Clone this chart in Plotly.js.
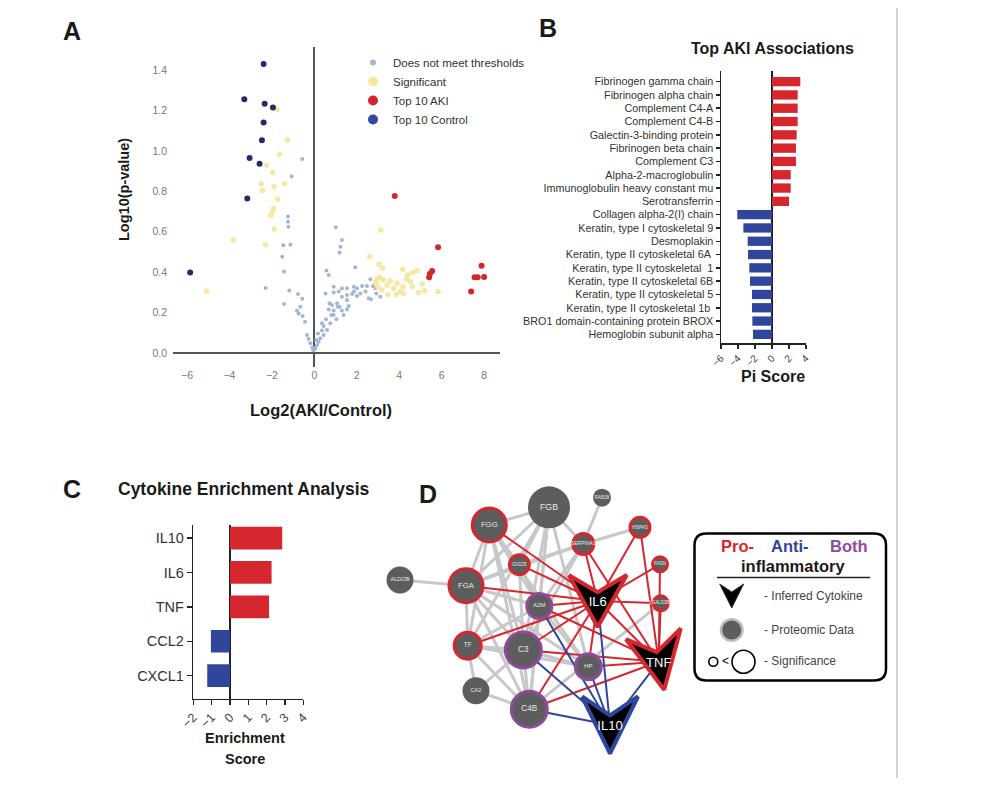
<!DOCTYPE html>
<html><head><meta charset="utf-8">
<script src="https://cdn.plot.ly/plotly-3.0.1.min.js"></script>
<style>html,body{margin:0;padding:0;background:#fff}#chart{width:996px;height:798px}</style>
</head><body><div id="chart"></div>
<script>
// ---------------- Panel A: volcano plot ----------------
const nsX = [-0.57,-1.07,-1.24,-1.24,-1.22,-1.46,-1.13,-1.51,-1.42,-2.30,-1.18,-1.42,-0.77,-0.57,-0.66,-0.82,-0.74,-0.55,-0.44,-0.35,-0.27,-0.19,-0.09,-0.05,
  1.01,1.30,1.23,1.19,0.57,0.68,1.93,2.64,2.48,2.76,2.25,2.01,1.86,1.78,1.54,1.30,1.15,0.91,1.30,1.54,2.01,2.17,2.67,2.56,3.11,2.92,1.54,1.07,0.83,1.19,1.30,0.68,1.54,1.38,1.62,0.91,1.04,0.75,0.44,0.60,0.36,0.44,0.28,0.20,0.13,0.05,-0.03,0.91,1.86,2.41,2.88,0.53,0.72,0.91,0.80,0.55,0.36,0.17,0.09,1.10];
const nsY = [0.960,0.873,0.675,0.650,0.625,0.533,0.536,0.477,0.404,0.322,0.309,0.243,0.292,0.269,0.229,0.210,0.196,0.183,0.155,0.089,0.069,0.048,0.028,0.015,
  0.622,0.559,0.526,0.498,0.408,0.386,0.424,0.365,0.332,0.332,0.332,0.320,0.304,0.292,0.320,0.320,0.304,0.300,0.279,0.287,0.282,0.295,0.266,0.271,0.279,0.295,0.262,0.246,0.238,0.229,0.210,0.216,0.216,0.188,0.233,0.188,0.167,0.147,0.134,0.114,0.111,0.089,0.073,0.056,0.040,0.023,0.015,0.328,0.328,0.304,0.320,0.295,0.246,0.210,0.188,0.167,0.147,0.097,0.064,0.229];
const sigX = [-1.76,-1.26,-1.65,-2.26,-1.97,-2.50,-1.90,-1.40,-2.45,-1.73,-1.92,-1.97,-2.06,-1.89,-3.82,-2.30,-5.08,
  3.13,2.61,3.05,3.22,3.08,2.96,3.24,3.58,3.43,3.90,4.17,4.40,4.64,4.84,4.34,4.53,4.18,4.06,3.46,3.87,4.21,4.62,4.92,5.19,5.09,5.83,3.74,3.19,2.99,2.89];
const sigY = [1.206,1.054,0.983,0.929,0.893,0.837,0.823,0.837,0.804,0.761,0.716,0.698,0.681,0.614,0.559,0.536,0.307,
  0.609,0.477,0.439,0.419,0.375,0.365,0.361,0.358,0.337,0.345,0.414,0.386,0.399,0.408,0.365,0.353,0.328,0.304,0.290,0.290,0.295,0.328,0.300,0.309,0.342,0.305,0.320,0.312,0.328,0.353];
const akiX = [3.79,5.83,5.55,5.41,7.88,7.55,7.70,8.00,7.39,5.45];
const akiY = [0.777,0.523,0.406,0.375,0.432,0.375,0.375,0.376,0.304,0.392];
const ctlX = [-2.39,-3.30,-2.34,-1.95,-2.39,-2.47,-3.05,-2.58,-3.16,-5.85];
const ctlY = [1.430,1.256,1.233,1.215,1.140,1.053,0.965,0.936,0.764,0.398];
const legendNamesA = ['Does not meet thresholds','Significant','Top 10 AKI','Top 10 Control'];
const volcanoXTicks = [-6,-4,-2,0,2,4,6,8];
const volcanoYTicks = [0,0.2,0.4,0.6,0.8,1.0,1.2,1.4];

// ---------------- Panel B: Pi scores ----------------
const piProteins = ['Fibrinogen gamma chain','Fibrinogen alpha chain','Complement C4-A','Complement C4-B','Galectin-3-binding protein',
  'Fibrinogen beta chain','Complement C3','Alpha-2-macroglobulin','Immunoglobulin heavy constant mu','Serotransferrin',
  'Collagen alpha-2(I) chain','Keratin, type I cytoskeletal 9','Desmoplakin','Keratin, type II cytoskeletal 6A ',
  'Keratin, type II cytoskeletal  1','Keratin, type II cytoskeletal 6B','Keratin, type II cytoskeletal 5',
  'Keratin, type II cytoskeletal 1b ','BRO1 domain-containing protein BROX','Hemoglobin subunit alpha'];
const piScores = [3.33,3.02,3.02,3.02,2.90,2.82,2.82,2.20,2.20,2.00,-4.08,-3.37,-2.86,-2.82,-2.67,-2.59,-2.35,-2.35,-2.31,-2.24];
const piTicks = [-6,-4,-2,0,2,4];

// ---------------- Panel C: cytokine enrichment ----------------
const cytokines = ['IL10','IL6','TNF','CCL2','CXCL1'];
const enrichment = [2.85,2.27,2.13,-1.04,-1.24];
const enrichTicks = [-2,-1,0,1,2,3,4];

// ---------------- Panel D: network ----------------
const nodeNames = ['FGB','RAB1B','FGG','SERPINA1','HSPA5','GIG25','FASN','ALDOB','FGA','A2M','LGALS3BP','TF','C3','HP','CA2','C4B'];
const nodeX = [549,602,489.3,583.3,640,519.3,660,400,466,539.3,660.7,467.7,523.3,588.3,476,529.3];
const nodeY = [507.3,497.7,525,544,527.3,564.7,564.3,580,585.7,606,603.3,645.7,650,666.7,690.7,709.3];
const nodeSize = [42,18,37,24,23,23,18,27,37,28,18,30,39,29,27,39];
const nodeRole = ['none','none','pro','pro','pro','pro','pro','none','pro','both','pro','pro','both','both','none','both'];
const cytoNames = ['IL6','TNF','IL10'];
const cytoX = [597.7,658.7,610];
const cytoY = [601,661.7,725];
const cytoRole = ['pro','pro','anti'];
const greyEdges = [['FGG','FGB'],['FGG','FGA'],['FGG','TF'],['FGG','C3'],['FGG','A2M'],['FGG','GIG25'],['FGG','HP'],['FGG','C4B'],
  ['FGB','FGA'],['FGB','SERPINA1'],['FGB','A2M'],['FGB','C3'],['FGB','TF'],['FGB','GIG25'],['FGB','HP'],['FGB','C4B'],
  ['RAB1B','SERPINA1'],['HSPA5','SERPINA1'],['SERPINA1','FGA'],['SERPINA1','C3'],['SERPINA1','A2M'],['SERPINA1','GIG25'],
  ['FGA','ALDOB'],['FGA','TF'],['FGA','A2M'],['FGA','C3'],['FGA','GIG25'],['FGA','C4B'],['FGA','HP'],
  ['TF','C3'],['TF','A2M'],['TF','CA2'],['TF','C4B'],['TF','HP'],['C3','C4B'],['C3','HP'],['C3','A2M'],['C3','CA2'],['CA2','C4B'],
  ['A2M','HP'],['A2M','C4B'],['GIG25','A2M'],['GIG25','C3'],['LGALS3BP','C4B']];
const proEdges = [['IL6','FGG'],['IL6','SERPINA1'],['IL6','HSPA5'],['IL6','GIG25'],['IL6','FASN'],['IL6','FGA'],['IL6','A2M'],
  ['IL6','TF'],['IL6','C3'],['IL6','HP'],['IL6','C4B'],['IL6','LGALS3BP'],['IL6','TNF'],
  ['TNF','HSPA5'],['TNF','FASN'],['TNF','LGALS3BP'],['TNF','SERPINA1'],['TNF','HP'],['TNF','C3'],['TNF','C4B'],['TNF','A2M']];
const antiEdges = [['IL10','A2M'],['IL10','C3'],['IL10','HP'],['IL10','C4B'],['IL10','TNF'],['IL10','IL6']];

// ---------------- styling ----------------
const FONT = 'Liberation Sans, Arial, Helvetica, sans-serif';
const W = 996, H = 798;
const px = v => v / W, py = v => 1 - v / H;
const RED = '#d6272e', BLUE = '#2f469c', PURPLE = '#8f4a9c', NODEGREY = '#5d5d5d';
const roleColor = {none: NODEGREY, pro: RED, both: PURPLE, anti: BLUE};
const cytoW = [58,56,56], cytoH = [52,57,57], cytoTilt = [0,-11,0];

const pos = {};
nodeNames.forEach((n,i) => pos[n] = [nodeX[i], nodeY[i]]);
cytoNames.forEach((n,i) => pos[n] = [cytoX[i], cytoY[i]]);
function edgeXY(list){ const x=[], y=[]; list.forEach(([a,b]) => { x.push(pos[a][0], pos[b][0], null); y.push(pos[a][1], pos[b][1], null); }); return {x, y}; }
function chevron(cx, cy, w, h, tilt){
  const t = tilt * Math.PI / 180;
  const pts = [[-w/2,-h/2],[0,-h/2+0.33*h],[w/2,-h/2],[0,h/2],[-w/2,-h/2]];
  return {x: pts.map(p => cx + p[0]*Math.cos(t) - p[1]*Math.sin(t)), y: pts.map(p => cy + p[0]*Math.sin(t) + p[1]*Math.cos(t))};
}

const traces = [];
// Panel A
traces.push({type:'scatter', mode:'markers', x:nsX, y:nsY, xaxis:'x', yaxis:'y', marker:{size:4, color:'#a3b6d4', opacity:1}, showlegend:false, hoverinfo:'skip'});
traces.push({type:'scatter', mode:'markers', x:sigX, y:sigY, xaxis:'x', yaxis:'y', marker:{size:5.5, color:'#f6e8a0', opacity:1}, showlegend:false, hoverinfo:'skip'});
traces.push({type:'scatter', mode:'markers', x:akiX, y:akiY, xaxis:'x', yaxis:'y', marker:{size:6, color:'#d3262d', opacity:1}, showlegend:false, hoverinfo:'skip'});
traces.push({type:'scatter', mode:'markers', x:ctlX, y:ctlY, xaxis:'x', yaxis:'y', marker:{size:6, color:'#252a68', opacity:1}, showlegend:false, hoverinfo:'skip'});
const legColors = ['#a3b6d4','#f6e8a0','#d3262d','#2f4aa0'], legSizes = [6,10,10,10];
legendNamesA.forEach((n,i) => traces.push({type:'scatter', mode:'markers', x:[null], y:[null], xaxis:'x', yaxis:'y', name:n, marker:{size:legSizes[i], color:legColors[i]}, showlegend:true}));
// Panel B
traces.push({type:'bar', orientation:'h', x:piScores, y:piProteins, xaxis:'x2', yaxis:'y2', width:0.7,
  marker:{color: piScores.map(v => v >= 0 ? RED : BLUE), line:{width:0}}, showlegend:false, hoverinfo:'skip'});
// Panel C
traces.push({type:'bar', orientation:'h', x:enrichment, y:cytokines, xaxis:'x3', yaxis:'y3', width:0.66,
  marker:{color: enrichment.map(v => v >= 0 ? RED : BLUE), line:{width:0}}, showlegend:false, hoverinfo:'skip'});
// Panel D edges
[[greyEdges,'#c8c8c8',3],[proEdges,RED,2],[antiEdges,BLUE,2]].forEach(([list,c,w]) => {
  const e = edgeXY(list);
  traces.push({type:'scatter', mode:'lines', x:e.x, y:e.y, xaxis:'x4', yaxis:'y4', line:{color:c, width:w}, showlegend:false, hoverinfo:'skip'});
});
// Panel D protein nodes
traces.push({type:'scatter', mode:'markers+text', x:nodeX, y:nodeY, xaxis:'x4', yaxis:'y4', text:nodeNames,
  textposition:'middle center', textfont:{family:FONT, color:'#e8e8e8', size: nodeSize.map(s => Math.max(4.5, s*0.21))},
  marker:{color:NODEGREY, opacity:1, size: nodeSize.map((s,i) => nodeRole[i]==='none' ? s : s-3),
    line:{color: nodeRole.map(r => roleColor[r]), width: nodeRole.map(r => r==='none' ? 0 : 3)}},
  showlegend:false, hoverinfo:'skip', cliponaxis:false});
// Panel D cytokine chevrons
cytoNames.forEach((n,i) => {
  const c = chevron(cytoX[i], cytoY[i], cytoW[i], cytoH[i], cytoTilt[i]);
  traces.push({type:'scatter', mode:'lines', x:c.x, y:c.y, xaxis:'x4', yaxis:'y4', fill:'toself', fillcolor:'#000',
    line:{color: roleColor[cytoRole[i]], width:4}, showlegend:false, hoverinfo:'skip'});
});
traces.push({type:'scatter', mode:'text', x:cytoX, y:cytoY.map(v => v+2), xaxis:'x4', yaxis:'y4', text:cytoNames,
  textfont:{family:FONT, color:'#fff', size:13}, showlegend:false, hoverinfo:'skip'});

function rrect(x0,y0,x1,y1,r){
  return `M${x0+r},${y0} L${x1-r},${y0} Q${x1},${y0} ${x1},${y0+r} L${x1},${y1-r} Q${x1},${y1} ${x1-r},${y1} L${x0+r},${y1} Q${x0},${y1} ${x0},${y1-r} L${x0},${y0+r} Q${x0},${y0} ${x0+r},${y0} Z`;
}
const legChev = chevron(731.7, 596, 24, 24, 0);
const legChevPath = 'M' + legChev.x.map((x,i) => x + ',' + legChev.y[i]).join(' L') + ' Z';

const shapes = [
  {type:'line', xref:'paper', yref:'paper', x0:px(897), x1:px(897), y0:py(8), y1:py(778), line:{color:'#d3d3d3', width:2}},
  {type:'path', xref:'x4', yref:'y4', path: rrect(694.5,533.5,886,680.5,12), line:{color:'#000', width:2.5}},
  {type:'line', xref:'x4', yref:'y4', x0:717, x1:870, y0:577.5, y1:577.5, line:{color:'#222', width:1.5}},
  {type:'path', xref:'x4', yref:'y4', path: legChevPath, fillcolor:'#000', line:{color:'#333', width:1}},
  {type:'circle', xref:'x4', yref:'y4', x0:719.7, x1:743.7, y0:618, y1:642, fillcolor:'#bdbdbd', line:{width:0}},
  {type:'circle', xref:'x4', yref:'y4', x0:722.2, x1:741.2, y0:620.5, y1:639.5, fillcolor:'#5d5d5d', line:{width:0}},
  {type:'circle', xref:'x4', yref:'y4', x0:708.8, x1:717.8, y0:657.2, y1:666.2, line:{color:'#000', width:1.6}},
  {type:'circle', xref:'x4', yref:'y4', x0:732, x1:755, y0:650.2, y1:673.2, line:{color:'#000', width:1.6}}
];

const ann = (text, x, y, size, opts={}) => Object.assign({text, x:px(x), y:py(y), xref:'paper', yref:'paper', showarrow:false,
  font:{family:FONT, size, color:'#1a1a1a'}, xanchor:'center', yanchor:'middle'}, opts);
const annotations = [
  ann('<b>A</b>', 72, 31, 25), ann('<b>B</b>', 548, 28, 25), ann('<b>C</b>', 72, 489, 25), ann('<b>D</b>', 428, 494, 25),
  ann('<b>Log2(AKI/Control)</b>', 321, 410, 16.5),
  ann('<b>Log10(p-value)</b>', 124, 190, 14.5, {textangle:-90}),
  ann('<b>Top AKI Associations</b>', 772, 49, 16),
  ann('<b>Pi Score</b>', 773, 376, 16),
  ann('<b>Cytokine Enrichment Analysis</b>', 243, 489, 17.5),
  ann('<b>Enrichment</b>', 245, 738, 14.5), ann('<b>Score</b>', 245, 759, 14.5),
  ann('<b>Pro-</b>', 737, 546, 16.5, {font:{family:FONT, size:16.5, color:RED}}),
  ann('<b>Anti-</b>', 790, 546, 16.5, {font:{family:FONT, size:16.5, color:BLUE}}),
  ann('<b>Both</b>', 849, 546, 16.5, {font:{family:FONT, size:16.5, color:PURPLE}}),
  ann('<b>inflammatory</b>', 793, 566, 16.5),
  ann('- Inferred Cytokine', 762, 596, 12, {xanchor:'left', font:{family:FONT, size:12, color:'#444'}}),
  ann('- Proteomic Data', 762, 630, 12, {xanchor:'left', font:{family:FONT, size:12, color:'#444'}}),
  ann('- Significance', 762, 661, 12, {xanchor:'left', font:{family:FONT, size:12, color:'#444'}}),
  ann('<', 725.5, 661, 12, {font:{family:FONT, size:12, color:'#000'}})
];

const hidden = {showgrid:false, zeroline:false, showline:false, showticklabels:false, ticks:''};
const layout = {
  width:W, height:H, margin:{l:0,r:0,t:0,b:0}, paper_bgcolor:'#fff', plot_bgcolor:'rgba(0,0,0,0)',
  font:{family:FONT, color:'#333'}, hovermode:false,
  showlegend:true,
  legend:{x:px(353), y:py(48), xanchor:'left', yanchor:'top', font:{family:FONT, size:11.5, color:'#333'}, bgcolor:'rgba(0,0,0,0)', tracegroupgap:0, itemclick:false},
  xaxis:{domain:[px(173), px(500)], range:[-6.66, 8.75], anchor:'y', showgrid:false, showline:false, zeroline:true, zerolinecolor:'#555', zerolinewidth:2,
    tickvals:volcanoXTicks, ticks:'', tickfont:{family:FONT, size:10.5, color:'#777'}},
  yaxis:{domain:[py(367), py(47)], range:[-0.069, 1.514], anchor:'x', showgrid:false, showline:false, zeroline:true, zerolinecolor:'#555', zerolinewidth:2,
    tickvals:volcanoYTicks, tickformat:'.1f', ticks:'', ticklabelstandoff:5, tickfont:{family:FONT, size:10.5, color:'#777'}},
  xaxis2:{domain:[px(721), px(806)], range:[-6, 4], anchor:'y2', showgrid:false, showline:true, linecolor:'#222', linewidth:1.5,
    zeroline:true, zerolinecolor:'#222', zerolinewidth:1.5, tickvals:piTicks, ticks:'outside', ticklen:4, tickcolor:'#222', tickwidth:1.5,
    tickangle:-45, tickfont:{family:FONT, size:10, color:'#444'}},
  yaxis2:{domain:[py(343), py(71)], type:'category', categoryarray:piProteins, categoryorder:'array', range:[19.65, -0.8], anchor:'x2',
    showgrid:false, showline:true, linecolor:'#222', linewidth:1.5, zeroline:false, ticks:'outside', ticklen:4, tickcolor:'#222', tickwidth:1.5,
    tickfont:{family:FONT, size:10.8, color:'#333'}},
  xaxis3:{domain:[px(193.3), px(303.3)], range:[-2, 4], anchor:'y3', showgrid:false, showline:true, linecolor:'#222', linewidth:1.5,
    zeroline:true, zerolinecolor:'#222', zerolinewidth:1.5, tickvals:enrichTicks, ticks:'outside', ticklen:5, tickcolor:'#222', tickwidth:1.5,
    tickangle:-45, tickfont:{family:FONT, size:12.5, color:'#444'}},
  yaxis3:{domain:[py(698.7), py(525)], type:'category', categoryarray:cytokines, categoryorder:'array', range:[4.67, -0.38], anchor:'x3',
    showgrid:false, showline:true, linecolor:'#222', linewidth:1.5, zeroline:false, ticks:'outside', ticklen:5, tickcolor:'#222', tickwidth:1.5,
    tickfont:{family:FONT, size:14.5, color:'#333'}},
  xaxis4:Object.assign({domain:[px(372), px(900)], range:[372, 900], anchor:'y4'}, hidden),
  yaxis4:Object.assign({domain:[py(780), py(470)], range:[780, 470], anchor:'x4'}, hidden),
  shapes, annotations
};
Plotly.newPlot('chart', traces, layout, {staticPlot:true, displayModeBar:false});
</script></body></html>
